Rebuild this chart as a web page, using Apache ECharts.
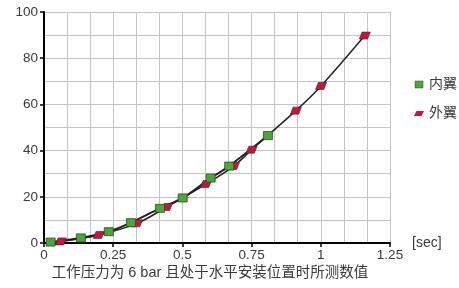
<!DOCTYPE html>
<html>
<head>
<meta charset="utf-8">
<script src="https://cdn.jsdelivr.net/npm/echarts@6/dist/echarts.min.js"></script>
<style>
  html, body { margin: 0; padding: 0; background: #fff; }
  #main { width: 459px; height: 288px; }
</style>
</head>
<body>
<div id="main"></div>
<script>
    // 内翼 数据点 [时间 sec, 值]
    var innerX = [0.024, 0.133, 0.234, 0.314, 0.419, 0.501, 0.602, 0.669, 0.809];
    var innerY = [0.4, 2.2, 4.9, 8.8, 15.0, 19.5, 28.1, 33.3, 46.5];
    // 外翼 数据点
    var outerX = [0.061, 0.198, 0.336, 0.444, 0.585, 0.686, 0.750, 0.910, 1.001, 1.159];
    var outerY = [0.7, 3.5, 8.5, 15.6, 25.5, 33.3, 40.4, 57.3, 68.0, 89.8];
    var xTicks = [0, 0.25, 0.5, 0.75, 1, 1.25];
    var yTicks = [0, 20, 40, 60, 80, 100];
    var legendNames = ['内翼', '外翼'];
    var title = '工作压力为 6 bar 且处于水平安装位置时所测数值';

    function pairs(xs, ys) {
        var out = [];
        for (var i = 0; i < xs.length; i++) {
            out.push([xs[i], ys[i]]);
        }
        return out;
    }

    var font = '"Liberation Sans", "Noto Sans CJK SC", sans-serif';
    var textColor = '#3a3a3a';
    var gridColor = '#c4c4c4';
    var redShape = 'path://M3,0 L12,0 L9,8 L0,8 Z';
    // 图例用的小图标
    var legendSquare = 'path://M0,0 L8,0 L8,7 L0,7 Z';
    var legendRed = 'path://M3,0 L12,0 L9,6 L0,6 Z';

    var innerData = pairs(innerX, innerY);
    var outerData = pairs(outerX, outerY);

    var myChart = echarts.init(document.getElementById('main'));
    var option = {
        animation: false,
        textStyle: { fontFamily: font },
        title: {
            text: title,
            left: 210,
            textAlign: 'center',
            top: 266,
            padding: 0,
            textStyle: { fontSize: 14.5, fontWeight: 'normal', color: textColor, fontFamily: font }
        },
        legend: {
            orient: 'vertical',
            left: 414,
            top: 77,
            padding: 0,
            itemGap: 14,
            itemWidth: 10,
            itemHeight: 7,
            itemStyle: { borderWidth: 0.5 },
            textStyle: { fontSize: 14, lineHeight: 15, color: textColor },
            data: [
                { name: legendNames[0], icon: legendSquare },
                { name: legendNames[1], icon: legendRed, itemStyle: { borderWidth: 0 } }
            ]
        },
        grid: { left: 44, right: 69, top: 12, bottom: 45 },
        xAxis: {
            type: 'value',
            min: xTicks[0],
            max: xTicks[xTicks.length - 1],
            interval: 0.25,
            name: '[sec]',
            nameLocation: 'end',
            nameGap: 22,
            nameTextStyle: { fontSize: 14, color: textColor, verticalAlign: 'middle' },
            axisLine: { lineStyle: { color: '#000', width: 2 } },
            axisTick: { show: true, length: 4, lineStyle: { color: '#000', width: 1.5 } },
            axisLabel: {
                fontSize: 13.5, color: textColor, margin: 6,
                formatter: function (v) { return xTicks.indexOf(v) >= 0 ? String(v) : ''; }
            },
            splitLine: { show: true, lineStyle: { color: gridColor, width: 1 } },
            minorTick: { show: false, splitNumber: 3 },
            minorSplitLine: { show: true, lineStyle: { color: gridColor, width: 1 } }
        },
        yAxis: {
            type: 'value',
            min: yTicks[0],
            max: yTicks[yTicks.length - 1],
            interval: 20,
            axisLine: { show: true, lineStyle: { color: '#000', width: 2 } },
            axisTick: { show: true, length: 4, lineStyle: { color: '#000', width: 1.5 } },
            axisLabel: { fontSize: 13.5, color: textColor, margin: 6 },
            splitLine: { show: true, lineStyle: { color: gridColor, width: 1 } },
            minorTick: { show: false, splitNumber: 2 },
            minorSplitLine: { show: true, lineStyle: { color: gridColor, width: 1 } }
        },
        series: [
            // 曲线（不进图例）
            {
                name: 'inner-line',
                type: 'line',
                smooth: 0.3,
                symbol: 'none',
                lineStyle: { color: '#222', width: 2 },
                data: innerData,
                z: 1
            },
            {
                name: 'outer-line',
                type: 'line',
                smooth: 0.3,
                symbol: 'none',
                lineStyle: { color: '#222', width: 1.5 },
                data: outerData,
                z: 1
            },
            // 数据点
            {
                name: legendNames[1],
                type: 'scatter',
                symbol: redShape,
                symbolSize: [11, 7],
                itemStyle: { color: '#c2183e', borderColor: '#4a1a22', borderWidth: 0.6, opacity: 1 },
                data: outerData,
                z: 2
            },
            {
                name: legendNames[0],
                type: 'scatter',
                symbol: 'rect',
                symbolSize: [9, 8],
                itemStyle: { color: '#4ea53b', borderColor: '#2d4a24', borderWidth: 0.8, opacity: 1 },
                data: innerData,
                z: 3
            }
        ]
    };
    myChart.setOption(option);
</script>
</body>
</html>
